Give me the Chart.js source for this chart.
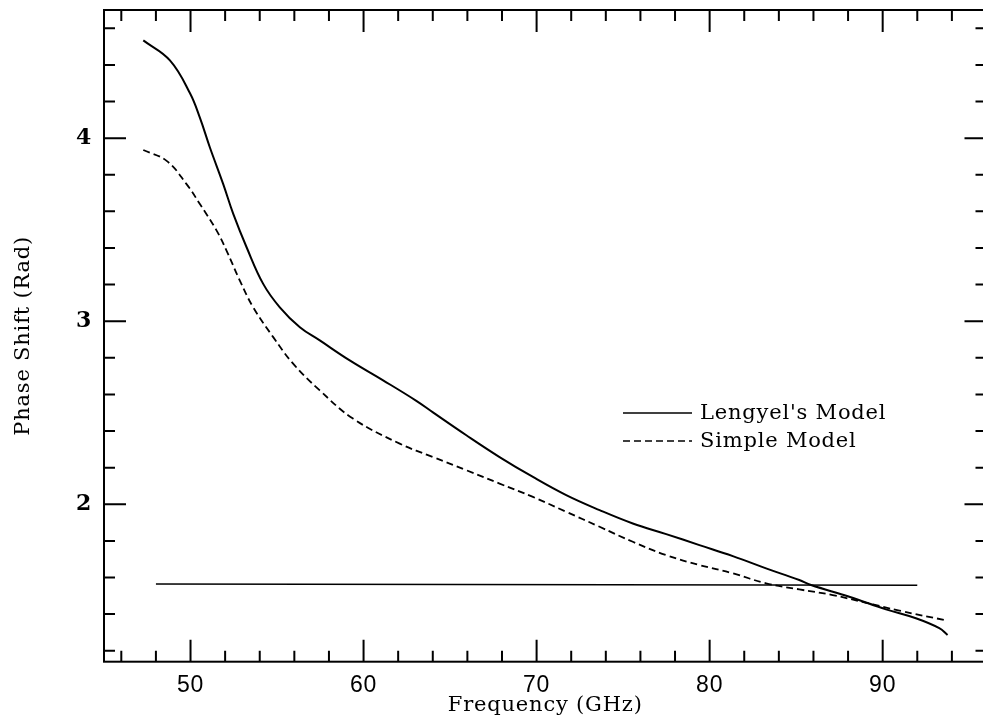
<!DOCTYPE html>
<html>
<head>
<meta charset="utf-8">
<script src="https://cdn.jsdelivr.net/npm/chart.js@4.4.1/dist/chart.umd.min.js"></script>
<style>
  html, body { margin: 0; padding: 0; background: #fff; overflow: hidden; }
  #wrap { width: 1000px; height: 721px; }
</style>
</head>
<body>
<div id="wrap"><canvas id="myChart"></canvas></div>
<script>
// values
const freqLengyel = [47.27, 48.81, 49.97, 50.54, 51.12, 51.89, 52.47, 53.24, 54.2, 55.16, 56.32, 57.47, 59.2, 61.13, 63.05, 64.01, 65.94, 67.86, 69.79, 71.71, 73.64, 75.56, 77.49, 79.41, 81.34, 83.26, 85.18, 85.86, 88.07, 90.19, 91.92, 93.27, 93.75];
const phaseLengyel = [4.534, 4.425, 4.245, 4.112, 3.949, 3.749, 3.586, 3.404, 3.204, 3.076, 2.967, 2.895, 2.786, 2.677, 2.565, 2.502, 2.377, 2.258, 2.149, 2.05, 1.968, 1.895, 1.837, 1.777, 1.717, 1.65, 1.586, 1.559, 1.495, 1.426, 1.377, 1.323, 1.286];

const freqSimple = [47.27, 48.62, 49.77, 50.54, 51.51, 52.08, 52.85, 53.62, 54.78, 55.93, 57.47, 59.39, 62.09, 64.01, 65.94, 67.86, 69.79, 71.71, 73.64, 75.56, 77.49, 79.41, 81.34, 83.26, 85.18, 87.11, 89.04, 90.96, 93.75];
const phaseSimple = [3.935, 3.876, 3.749, 3.64, 3.495, 3.386, 3.222, 3.076, 2.913, 2.768, 2.622, 2.468, 2.331, 2.258, 2.186, 2.113, 2.04, 1.959, 1.877, 1.795, 1.722, 1.668, 1.623, 1.568, 1.535, 1.504, 1.462, 1.419, 1.364];

const freqRef = [48, 92];
const phaseRef = [1.565, 1.557];

const xTickLabels = [50, 60, 70, 80, 90];
const yTickLabels = [2, 3, 4];
const seriesNames = ["Lengyel's Model", "Simple Model"];

const serif = "'DejaVu Serif'";
const toPoints = (xs, ys) => xs.map((x, i) => ({ x: x, y: ys[i] }));

// no auto padding for first/last tick labels, the frame is fixed
const noEdgePad = (s) => {
  s.paddingTop = 0; s.paddingBottom = 0;
  s.paddingLeft = 0; s.paddingRight = 0;
};

// the serif text in the scan is set loose
const spacingPlugin = {
  id: "spacing",
  beforeDraw(chart) { chart.ctx.letterSpacing = "0.8px"; }
};

// frame + inward ticks on all four sides, and the in-plot legend
const framePlugin = {
  id: "frame",
  afterDraw(chart) {
    const { ctx, chartArea: a, scales } = chart;
    const xs = scales.x, ys = scales.y;
    ctx.save();
    ctx.strokeStyle = "#000";
    ctx.lineWidth = 2;
    ctx.strokeRect(a.left, a.top, a.right - a.left, a.bottom - a.top);

    ctx.beginPath();
    for (let v = 46; v <= 96; v += 2) {
      const px = xs.getPixelForValue(v);
      const len = v % 10 === 0 ? 22 : 11;
      ctx.moveTo(px, a.bottom); ctx.lineTo(px, a.bottom - len);
      ctx.moveTo(px, a.top); ctx.lineTo(px, a.top + len);
    }
    for (let k = 6; k <= 23; k++) {
      const py = ys.getPixelForValue(k / 5);
      const len = k % 5 === 0 ? 22 : 11;
      ctx.moveTo(a.left, py); ctx.lineTo(a.left + len, py);
      ctx.moveTo(a.right, py); ctx.lineTo(a.right - len, py);
    }
    ctx.stroke();

    // legend
    ctx.font = "21px " + serif;
    ctx.fillStyle = "#000";
    ctx.textBaseline = "middle";
    const rows = [413, 441];
    chart.data.datasets.slice(0, 2).forEach((ds, i) => {
      ctx.beginPath();
      ctx.lineWidth = 1.6;
      ctx.setLineDash(ds.borderDash || []);
      ctx.moveTo(623, rows[i]);
      ctx.lineTo(692, rows[i]);
      ctx.stroke();
      ctx.setLineDash([]);
      ctx.fillText(ds.label, 700, rows[i] + 1);
    });
    ctx.restore();
  }
};

new Chart("myChart", {
  type: "line",
  data: {
    datasets: [
      {
        label: seriesNames[0],
        data: toPoints(freqLengyel, phaseLengyel),
        borderColor: "#000",
        borderWidth: 2,
        pointRadius: 0,
        tension: 0.4,
        fill: false
      },
      {
        label: seriesNames[1],
        data: toPoints(freqSimple, phaseSimple),
        borderColor: "#000",
        borderWidth: 1.8,
        borderDash: [7, 4],
        pointRadius: 0,
        tension: 0.4,
        fill: false
      },
      {
        label: "ref",
        data: toPoints(freqRef, phaseRef),
        borderColor: "#000",
        borderWidth: 1.5,
        pointRadius: 0,
        fill: false
      }
    ]
  },
  options: {
    responsive: true,
    maintainAspectRatio: false,
    animation: false,
    layout: { padding: { top: 10, right: 13.5, left: 0, bottom: 0 } },
    plugins: {
      legend: { display: false },
      tooltip: { enabled: false }
    },
    scales: {
      x: {
        type: "linear",
        min: 45,
        max: 96,
        grid: { display: false, drawTicks: false },
        border: { display: false },
        afterBuildTicks: (s) => { s.ticks = xTickLabels.map((v) => ({ value: v })); },
        afterFit: (s) => { s.height = 59.3; noEdgePad(s); },
        ticks: {
          color: "#000",
          padding: 10,
          maxRotation: 0,
          font: { family: "'Liberation Sans'", size: 23 }
        },
        title: {
          display: true,
          text: "Frequency (GHz)",
          color: "#000",
          padding: { top: 0, bottom: 3 },
          font: { family: serif, size: 21 }
        }
      },
      y: {
        type: "linear",
        min: 1.14,
        max: 4.7,
        grid: { display: false, drawTicks: false },
        border: { display: false },
        afterBuildTicks: (s) => { s.ticks = yTickLabels.map((v) => ({ value: v })); },
        afterFit: (s) => { s.width = 104; noEdgePad(s); },
        ticks: {
          color: "#000",
          padding: 12,
          font: { family: serif, size: 22, weight: "bold" }
        },
        title: {
          display: true,
          text: "Phase Shift (Rad)",
          color: "#000",
          padding: { top: 10.5, bottom: 0 },
          font: { family: serif, size: 21 }
        }
      }
    }
  },
  plugins: [spacingPlugin, framePlugin]
});
</script>
</body>
</html>
